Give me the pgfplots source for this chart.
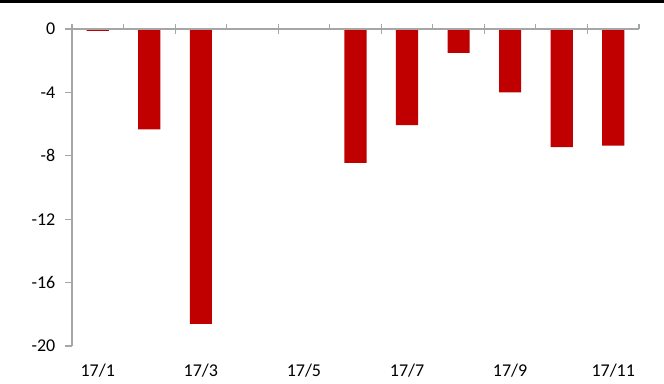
\documentclass[border=0pt]{standalone}
\usepackage{pgfplots}
\pgfplotsset{compat=1.18}
\usepackage{fontspec}
\setmainfont{Carlito}
\definecolor{barred}{HTML}{C00000}
\definecolor{axisgray}{HTML}{A6A6A6}

\begin{document}
\begin{tikzpicture}
% page frame (664 x 383 units of 0.75pt) and top rule
\useasboundingbox (0pt,0pt) rectangle (498pt,287.25pt);
\fill[black] (0pt,285pt) rectangle (498pt,287.6pt);
\begin{axis}[
  at={(54pt,27.75pt)}, anchor=south west,
  scale only axis,
  width=425.25pt, height=237.75pt,
  xmin=-0.5, xmax=10.5,
  ymin=-20, ymax=0,
  axis x line*=bottom,
  axis y line*=left,
  x axis line style={draw=none},
  y axis line style={axisgray, line width=0.8pt},
  ytick={-20,-16,-12,-8,-4,0},
  xtick={0,2,4,6,8,10},
  xticklabels={17/1,17/3,17/5,17/7,17/9,17/11},
  major x tick style={draw=none},
  ytick style={axisgray, line width=0.8pt},
  tick align=outside,
  major tick length=5pt,
  xticklabel style={yshift=-5pt},
  yticklabel style={xshift=-4pt},
  tick label style={font=\fontsize{13.5}{15}\selectfont},
  /pgf/number format/assume math mode=true,
  clip=false,
  ybar, bar width=0.43,
]
\addplot[fill=barred, draw=none] coordinates {
  (0,-0.12) (1,-6.33) (2,-18.6) (3,0) (4,-0.05)
  (5,-8.45) (6,-6.06) (7,-1.5) (8,-4.0) (9,-7.45) (10,-7.35)
};
% zero line with category separators
\draw[axisgray, line width=0.8pt] (axis cs:-0.5,0) -- (axis cs:10.5,0);
\pgfplotsinvokeforeach{0.5,2.5,4.5,6.5,8.5}{
  \draw[axisgray, line width=0.8pt] (axis cs:#1,0) -- ++(0pt,3.5pt);
}
\pgfplotsinvokeforeach{-0.5,1.5,3.5,5.5,7.5,9.5}{
  \draw[axisgray, line width=0.8pt] (axis cs:#1,0) ++(0pt,-3.5pt) -- ++(0pt,7pt);
}
\draw[axisgray, line width=0.8pt] (axis cs:10.5,0) -- ++(0pt,3.5pt);
\end{axis}
\end{tikzpicture}
\end{document}
